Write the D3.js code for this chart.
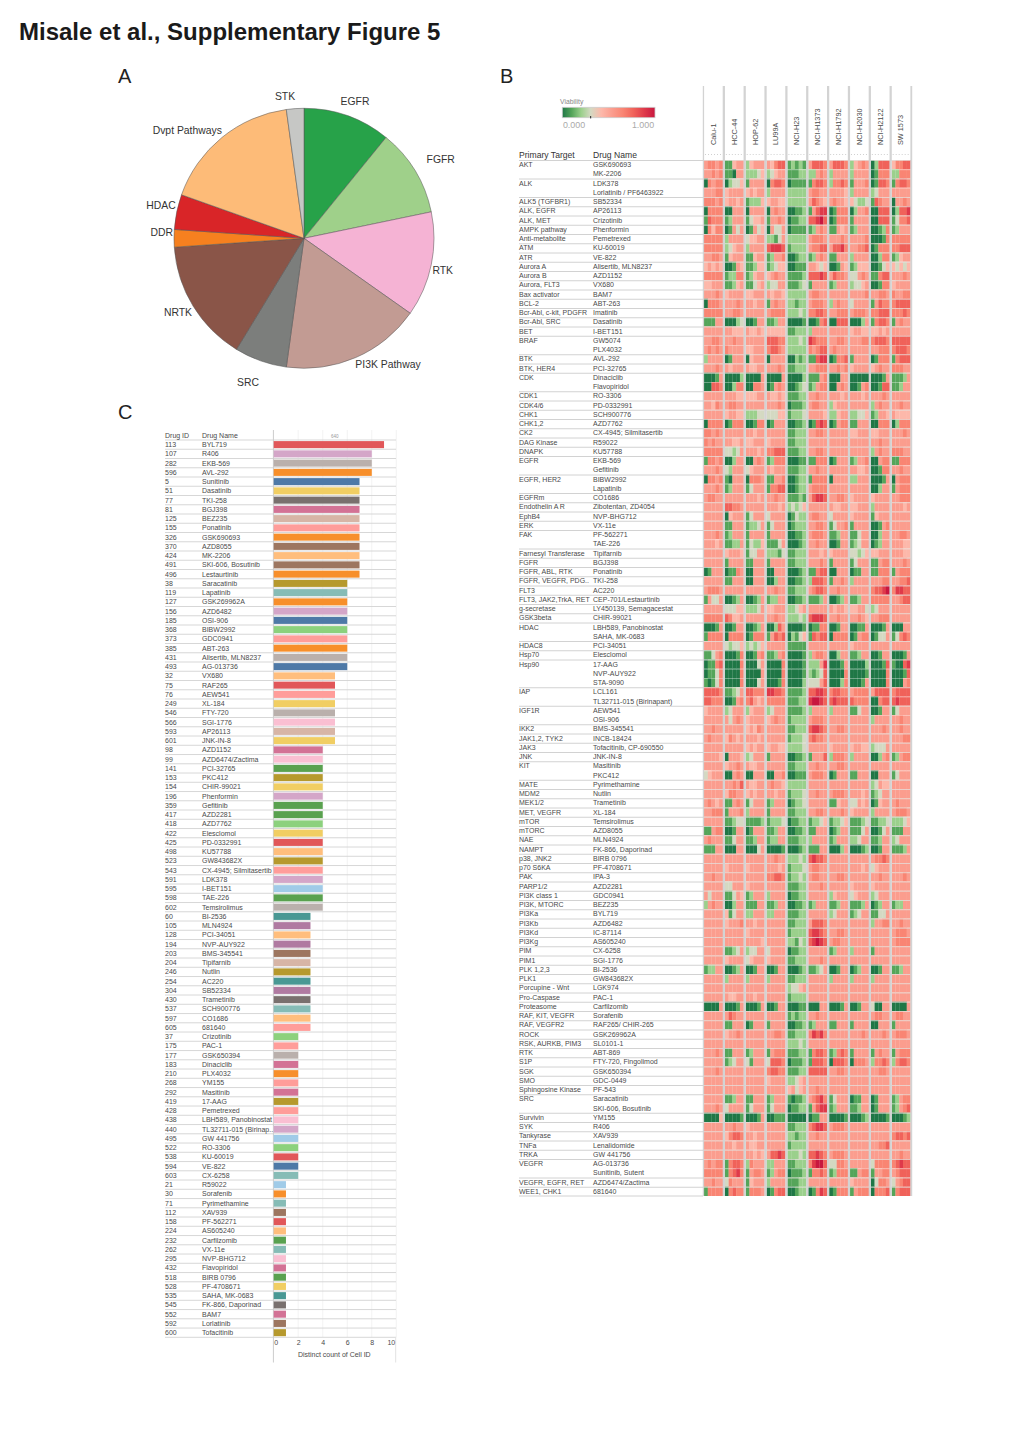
<!DOCTYPE html>
<html><head><meta charset="utf-8">
<script src="https://cdn.jsdelivr.net/npm/d3@7"></script>
<style>
html,body{margin:0;padding:0;background:#fff}
svg{display:block}
text{font-family:"Liberation Sans",Arial,sans-serif}
</style></head><body>
<svg id="fig" width="1020" height="1442"></svg>
<script>
// ---------- Panel A data ----------
const pieLabels = ["EGFR","FGFR","RTK","PI3K Pathway","SRC","NRTK","DDR","HDAC","Dvpt Pathways","STK"];
const pieValues = [5,5,6,8,3,7,1,2,8,1];
const pieColors = ["#27a249","#9fd08a","#f5b3d4","#c29b93","#7c7e7c","#8a5548","#f6801f","#d92528","#fdbb78","#c6c7c5"];

// ---------- Panel C data ----------
const barIds = [113,107,282,596,5,51,77,81,125,155,326,370,424,491,496,38,119,127,156,185,368,373,385,431,493,32,75,76,249,546,566,593,601,98,99,141,153,154,196,359,417,418,422,425,498,523,543,591,595,598,602,60,105,128,194,203,204,246,254,304,430,537,597,605,37,175,177,183,210,268,292,419,428,438,440,495,522,538,594,603,21,30,71,112,158,224,232,262,295,432,518,528,535,545,552,592,600];
const barNames = ["BYL719","R406","EKB-569","AVL-292","Sunitinib","Dasatinib","TKI-258","BGJ398","BEZ235","Ponatinib","GSK690693","AZD8055","MK-2206","SKI-606, Bosutinib","Lestaurtinib","Saracatinib","Lapatinib","GSK269962A","AZD6482","OSI-906","BIBW2992","GDC0941","ABT-263","Alisertib, MLN8237","AG-013736","VX680","RAF265","AEW541","XL-184","FTY-720","SGI-1776","AP26113","JNK-IN-8","AZD1152","AZD6474/Zactima","PCI-32765","PKC412","CHIR-99021","Phenformin","Gefitinib","AZD2281","AZD7762","Elesclomol","PD-0332991","KU57788","GW843682X","CX-4945; Silmitasertib","LDK378","I-BET151","TAE-226","Temsirolimus","BI-2536","MLN4924","PCI-34051","NVP-AUY922","BMS-345541","Tipifarnib","Nutlin","AC220","SB52334","Trametinib","SCH900776","CO1686","681640","Crizotinib","PAC-1","GSK650394","Dinaciclib","PLX4032","YM155","Masitinib","17-AAG","Pemetrexed","LBH589, Panobinostat","TL32711-015 (Birinap..","GW 441756","RO-3306","KU-60019","VE-822","CX-6258","R59022","Sorafenib","Pyrimethamine","XAV939","PF-562271","AS605240","Carfilzomib","VX-11e","NVP-BHG712","Flavopiridol","BIRB 0796","PF-4708671","SAHA, MK-0683","FK-866, Daporinad","BAM7","Lorlatinib","Tofacitinib"];
const barCounts = [9,8,8,8,7,7,7,7,7,7,7,7,7,7,7,6,6,6,6,6,6,6,6,6,6,5,5,5,5,5,5,5,5,4,4,4,4,4,4,4,4,4,4,4,4,4,4,4,4,4,4,3,3,3,3,3,3,3,3,3,3,3,3,3,2,2,2,2,2,2,2,2,2,2,2,2,2,2,2,2,1,1,1,1,1,1,1,1,1,1,1,1,1,1,1,1,1];
const barGroups = ["red","lpurple","lgrey","orange","blue","yellow","grey","dpink","tan","lred","orange","brown","lorange","brown","orange","olive","lteal","orange","lpurple","blue","lgreen","lred","orange","lgrey","blue","lorange","red","lred","yellow","lgrey","pink","tan","yellow","dpink","pink","green","olive","yellow","lpurple","green","green","lgreen","yellow","red","lorange","olive","lred","lpurple","sky","green","lgrey","teal","purple","lorange","purple","brown","tan","olive","teal","purple","grey","lteal","lorange","lred","lgreen","lred","lgrey","dpink","orange","lred","dpink","olive","lred","pink","lpurple","sky","lgreen","red","blue","lteal","sky","orange","lteal","brown","red","lorange","green","lteal","pink","dpink","green","yellow","teal","grey","dpink","brown","olive"];
const barTicks = [0,2,4,6,8,10];
const groupKeys = ["blue","sky","orange","lorange","green","lgreen","olive","yellow","teal","lteal","red","lred","grey","lgrey","dpink","pink","purple","lpurple","brown","tan"];
const groupColors = ["#4e79a7","#a0cbe8","#f78f2b","#ffbe7d","#59a14f","#8cd17d","#b6992d","#f1ce63","#499894","#86bcb6","#e15759","#ff9d9a","#79706e","#bab0ac","#d37295","#fabfd2","#b07aa1","#d4a6c8","#9d7660","#d7b5a6"];

// ---------- Panel B data ----------
const cellLines = ["Calu-1","HCC-44","HOP-62","LU99A","NCI-H23","NCI-H1373","NCI-H1792","NCI-H2030","NCI-H2122","SW 1573"];
const primaryTargets = ["AKT","","ALK","","ALK5 (TGFBR1)","ALK, EGFR","ALK, MET","AMPK pathway","Anti-metabolite","ATM","ATR","Aurora A","Aurora B","Aurora, FLT3","Bax activator","BCL-2","Bcr-Abl, c-kit, PDGFR","Bcr-Abl, SRC","BET","BRAF","","BTK","BTK, HER4","CDK","","CDK1","CDK4/6","CHK1","CHK1,2","CK2","DAG Kinase","DNAPK","EGFR","","EGFR, HER2","","EGFRm","Endothelin A R","EphB4","ERK","FAK","","Farnesyl Transferase","FGFR","FGFR, ABL, RTK","FGFR, VEGFR, PDG..","FLT3","FLT3, JAK2,TrkA, RET","g-secretase","GSK3beta","HDAC","","HDAC8","Hsp70","Hsp90","","","IAP","","IGF1R","","IKK2","JAK1,2, TYK2","JAK3","JNK","KIT","","MATE","MDM2","MEK1/2","MET, VEGFR","mTOR","mTORC","NAE","NAMPT","p38, JNK2","p70 S6KA","PAK","PARP1/2","PI3K class 1","PI3K, MTORC","PI3Ka","PI3Kb","PI3Kd","PI3Kg","PIM","PIM1","PLK 1,2,3","PLK1","Porcupine - Wnt","Pro-Caspase","Proteasome","RAF, KIT, VEGFR","RAF, VEGFR2","ROCK","RSK, AURKB, PIM3","RTK","S1P","SGK","SMO","Sphingosine Kinase","SRC","","Survivin","SYK","Tankyrase","TNFa","TRKA","VEGFR","","VEGFR, EGFR, RET","WEE1, CHK1"];
const drugNames = ["GSK690693","MK-2206","LDK378","Lorlatinib / PF6463922","SB52334","AP26113","Crizotinib","Phenformin","Pemetrexed","KU-60019","VE-822","Alisertib, MLN8237","AZD1152","VX680","BAM7","ABT-263","Imatinib","Dasatinib","I-BET151","GW5074","PLX4032","AVL-292","PCI-32765","Dinaciclib","Flavopiridol","RO-3306","PD-0332991","SCH900776","AZD7762","CX-4945; Silmitasertib","R59022","KU57788","EKB-569","Gefitinib","BIBW2992","Lapatinib","CO1686","Zibotentan, ZD4054","NVP-BHG712","VX-11e","PF-562271","TAE-226","Tipifarnib","BGJ398","Ponatinib","TKI-258","AC220","CEP-701/Lestaurtinib","LY450139, Semagacestat","CHIR-99021","LBH589, Panobinostat","SAHA, MK-0683","PCI-34051","Elesclomol","17-AAG","NVP-AUY922","STA-9090","LCL161","TL32711-015 (Birinapant)","AEW541","OSI-906","BMS-345541","INCB-18424","Tofacitinib, CP-690550","JNK-IN-8","Masitinib","PKC412","Pyrimethamine","Nutlin","Trametinib","XL-184","Temsirolimus","AZD8055","MLN4924","FK-866, Daporinad","BIRB 0796","PF-4708671","IPA-3","AZD2281","GDC0941","BEZ235","BYL719","AZD6482","IC-87114","AS605240","CX-6258","SGI-1776","BI-2536","GW843682X","LGK974","PAC-1","Carfilzomib","Sorafenib","RAF265/ CHIR-265","GSK269962A","SL0101-1","ABT-869","FTY-720, Fingolimod","GSK650394","GDC-0449","PF-543","Saracatinib","SKI-606, Bosutinib","YM155","R406","XAV939","Lenalidomide","GW 441756","AG-013736","Sunitinib, Sutent","AZD6474/Zactima","681640"];
// viability per drug, per cell line, five dose bands; digit d means viability d/9, read by eye
const heatRows = [
"56656 11455 24555 54677 12121 57776 57776 24565 02777 46677",
"55656 11055 22234 23455 11122 22565 25555 25555 01666 22666",
"06566 02334 15555 06776 01111 16776 26676 15556 01776 16776",
"55566 45555 45455 25555 22222 56655 55554 25555 23555 55555",
"66656 45545 12224 45544 22222 57654 56554 43223 17655 05565",
"06666 00555 05555 05655 00112 15788 01666 02556 00777 02778",
"17666 12555 13445 15565 01122 77897 01666 15555 00777 13667",
"06466 01535 01534 05335 01111 12565 11545 12555 00126 12555",
"66666 25555 34455 22135 22222 56665 55565 55556 00016 66666",
"66666 23455 25555 78887 12222 56677 57786 55667 01666 66777",
"55665 14555 11455 12556 00122 12565 11555 25555 00266 12455",
"45454 00154 11244 12344 00111 55434 00154 12444 00134 43434",
"66666 12266 12455 45655 11112 77787 57665 33565 11677 55565",
"44555 11245 11345 23355 11123 15555 12555 23345 00166 45555",
"55565 45555 44555 54554 22222 56655 55555 55556 55665 65566",
"06665 55565 55455 15655 22122 56665 25655 35555 15766 67777",
"66666 55665 55555 56666 22232 66776 55666 56665 66777 66676",
"11155 00023 00155 11255 00001 00167 00777 00025 16776 15655",
"55555 55444 54454 44444 11222 25555 55555 45544 44545 55555",
"55665 55655 55555 77766 22232 87666 55665 55566 67776 77777",
"56565 65555 44555 67765 22222 65677 56555 55555 55666 67776",
"25555 01555 04555 05555 00212 11788 01667 15555 01666 16777",
"55565 54555 54455 55565 11222 55666 55656 45555 45655 66655",
"00015 00002 00005 00005 00002 11156 00055 00000 00015 11125",
"00776 00266 00665 01565 00123 12566 00565 00156 00177 11255",
"55555 55544 44455 54454 11122 55655 55545 55545 55565 55555",
"55465 56655 55555 55565 01112 56655 24555 55555 25655 55655",
"55555 45544 22233 33344 12223 55554 22455 22334 12554 54444",
"06666 01666 00166 01555 00112 01787 01566 11555 00666 02666",
"66565 55555 55455 55555 11222 55665 55555 44555 44555 55565",
"65655 55445 44555 45555 11222 55555 55555 55555 55655 55555",
"66666 33235 55545 66777 11122 55665 55555 55555 25655 66655",
"16656 00255 00565 12666 00011 11666 01555 12556 00566 11666",
"55565 32555 34555 54555 11122 55655 55555 55445 00166 55655",
"06656 10555 06665 11556 00122 16666 05555 22555 00015 05666",
"55565 12555 13555 16677 00122 56666 55555 55555 00255 15666",
"56655 55555 55545 55655 11121 57887 55665 45555 45555 55666",
"55555 77665 55555 55545 23234 55555 54455 44555 25555 55545",
"55555 04555 13555 35555 01322 56655 35555 45555 14555 55555",
"55555 11555 12235 13555 01222 55665 13556 15555 00156 55555",
"55565 12555 15555 15555 00112 56665 11255 11355 00255 55665",
"55545 11225 13224 11135 00012 55655 00155 12355 01255 55544",
"55555 45554 13355 22213 11222 55545 45555 33234 44555 55544",
"55555 15555 11555 15555 11222 55565 15555 13555 11566 55565",
"01555 01165 00555 00555 00012 11677 00555 01155 11666 15666",
"55555 11555 00555 00255 00112 27776 15565 25555 55566 55667",
"56665 55555 55555 55655 11222 56776 55655 55555 67789 68877",
"15335 00125 00125 12255 00112 11125 00125 11255 66666 55677",
"55555 33344 22235 44555 22345 55555 54554 44553 23555 55555",
"66666 76445 55555 55655 22232 78887 55655 55654 55666 55555",
"00015 00155 00125 00275 00001 01166 00155 00115 00015 00055",
"16666 06666 01666 15767 02134 17677 06666 01566 01335 13676",
"55555 32334 23234 55555 11111 55555 55555 45555 55555 55555",
"11356 00016 00156 11256 00001 25665 00255 11255 00155 00015",
"01167 00006 00035 00006 00001 22258 00015 00002 00017 10078",
"01136 00006 00005 00006 00001 21237 00006 00001 00006 00017",
"10136 00006 00035 00016 00002 33357 00026 00015 00006 00056",
"77776 11235 77666 88776 11112 77887 67766 56666 57777 67777",
"77666 00156 67545 66666 11122 89987 78777 76666 00677 78777",
"45555 23555 24555 23555 11112 25555 25555 11355 00155 13555",
"55555 53565 45555 45655 12222 56665 55555 55555 25555 55655",
"55655 55555 45465 55555 11222 78876 55665 55555 55565 55655",
"56555 46545 55545 55555 12223 67665 55555 55555 55555 55566",
"55555 55555 45455 45544 22223 55555 45555 45544 23335 55555",
"55554 05554 23555 15555 00112 15557 26665 25555 00256 12566",
"55555 45565 54455 55555 11222 55655 55665 55555 55555 55555",
"34555 00565 00555 00556 00111 56665 01555 11555 00555 13555",
"55555 55657 54455 56554 22222 55555 55555 55555 23544 55555",
"55555 46655 45455 55455 12223 55655 56665 55545 12355 55555",
"56545 11565 13555 12555 01223 55555 11455 33545 01455 56555",
"55666 15556 25555 15555 11222 55665 55565 45555 25555 56665",
"55555 11233 11112 12223 01122 12234 12234 11123 11223 22234",
"11566 00155 01555 11255 00112 11555 01255 11135 00135 11155",
"56555 11355 11255 12255 11122 25555 12555 22355 11255 23555",
"11155 00055 00035 00001 00012 11155 00025 00012 00155 11125",
"55555 55555 55555 55655 22232 78776 55555 55555 56676 55555",
"55555 45555 45555 55545 12223 56655 55555 55545 34555 55555",
"55655 55555 55555 66776 12232 56655 55665 55555 55655 55565",
"55555 33555 45555 55555 11122 55565 55555 45555 45555 55555",
"53555 11354 12555 25555 01122 55555 24555 34555 23555 55555",
"25655 00255 11155 11255 00112 12555 11255 11125 01255 12255",
"55555 41355 22555 22555 11122 55555 23555 12355 11335 55555",
"55555 45556 55455 55555 11222 57776 55555 55555 25566 55655",
"55555 55555 45555 55555 12222 78876 55665 55555 55555 56665",
"55555 55555 55554 55555 22132 78987 56655 55555 55555 56666",
"55555 11235 23355 35555 01122 55555 12555 25555 15555 55555",
"55555 45555 34555 45555 11222 55565 55555 55555 55555 55555",
"12255 00125 00155 00155 00012 11235 00155 01255 00155 11255",
"55555 25555 25555 25555 11222 55555 25555 25555 25555 55555",
"55555 55555 55555 55555 23345 55555 55555 55555 55555 55555",
"55555 54455 55455 55555 12222 55555 55555 55555 55555 55555",
"00005 00015 00015 00155 00011 00055 00015 00155 30055 00005",
"55555 57655 55555 55555 12122 55655 55555 55555 56655 56655",
"55555 11555 01555 15555 00112 12555 11555 15555 00555 15555",
"55555 45565 55555 55665 11222 68786 55555 55565 55565 56665",
"55555 55555 55555 55555 22232 55555 55555 55555 55555 55555",
"55565 11555 12555 15666 11122 16776 12676 15555 15655 15666",
"55555 12355 31555 37776 01112 17776 07776 06665 26676 26776",
"55565 55555 55555 67766 11122 77777 55665 55555 55665 55555",
"55555 55555 55555 45555 22345 55555 55555 55555 55555 55555",
"55555 55555 55555 55555 45345 55655 55555 55555 55555 55555",
"55555 11255 11555 12555 10112 56786 13555 01155 01555 12566",
"55565 35555 13555 13555 01122 15788 12555 11255 01555 12567",
"00004 00001 00015 00111 00000 01155 00001 00012 00001 00012",
"55555 55655 45555 55555 11222 67887 56665 55555 55555 55555",
"55555 46776 55455 55555 22122 55655 55555 55555 55555 67767",
"55555 55455 54455 55555 12222 55555 55555 55555 55667 55555",
"55555 55555 55454 57787 22232 77876 56665 55555 55555 55655",
"56566 16776 26555 22555 11222 68997 33665 55555 36666 67877",
"66666 16786 15665 12566 01112 16676 12666 11566 15566 56777",
"55655 36555 14555 25555 11122 55555 55555 45555 03665 35677",
"16666 06766 16665 01677 00122 01687 01666 15666 06667 16777"
];
const doseBands = [0,1,2,3,4];
const viabilityStops = [0,1/9,2/9,3/9,4/9,5/9,6/9,7/9,8/9,1];
const viabilityColors = ["#1f7746","#55a55a","#9bd08c","#d4d9c2","#fdb8aa","#fb9d8e","#f98573","#f0625a","#df3a4a","#c8173f"];

// ---------- Layout ----------
const svg = d3.select("#fig");
const textCol = "#4a4a4a", rule = "#d2d2d2";

svg.append("text").attr("x",19).attr("y",40).attr("font-size",24).attr("font-weight",700).attr("fill","#1a1a1a")
  .text("Misale et al., Supplementary Figure 5");
[["A",118,83],["B",500,83],["C",118,419]].forEach(([t,x,y])=>{
  svg.append("text").attr("x",x).attr("y",y).attr("font-size",20).attr("fill","#222").text(t);
});

// ---------- A: pie ----------
const pieG = svg.append("g").attr("transform","translate(304,238.3)");
const pieArc = d3.arc().innerRadius(0).outerRadius(130);
const pieData = d3.pie().sort(null)(pieValues);
pieG.selectAll("path").data(pieData).join("path")
  .attr("d",pieArc).attr("fill",(d,i)=>pieColors[i])
  .attr("stroke","#555").attr("stroke-opacity",.65).attr("stroke-width",.8);
const pieLabelOffset = [[51,-136.6],[136.7,-79],[138.7,32.4],[84,125.7],[-56,143.7],[-126,73.7],[-142.3,-5.6],[-143,-33],[-116.7,-107.6],[-19,-141.6]];
pieG.selectAll("text").data(pieLabels).join("text")
  .attr("x",(d,i)=>pieLabelOffset[i][0]).attr("y",(d,i)=>pieLabelOffset[i][1]).attr("dy",".35em")
  .attr("text-anchor","middle").attr("font-size",10.4).attr("fill","#333").text(d=>d);

// ---------- B: heat table ----------
const hx = d3.scaleBand().domain(cellLines).range([704,910.5]).paddingInner(0.098).paddingOuter(0);
const hy = d3.scaleBand().domain(d3.range(heatRows.length)).range([160,1196]);
const hd = d3.scaleBand().domain(doseBands).range([0,hx.bandwidth()]);
const vColor = d3.scaleLinear().domain(viabilityStops).range(viabilityColors);

const heatG = svg.append("g");
heatRows.forEach((row,r)=>{
  row.split(" ").forEach((panel,c)=>{
    heatG.selectAll(null).data(panel.split("").map(Number)).join("rect")
      .attr("x",(d,i)=>hx(cellLines[c])+hd(i)).attr("y",hy(r))
      .attr("width",hd.bandwidth()+.2).attr("height",hy.bandwidth())
      .attr("fill",d=>vColor(d/9));
  });
});
// pale rule between every row, stronger rule at each new target
const ruleG = svg.append("g");
primaryTargets.forEach((t,r)=>{
  ruleG.append("line").attr("x1",704).attr("x2",910.5).attr("y1",hy(r)+.5).attr("y2",hy(r)+.5)
    .attr("stroke",t?"#e4e0dc":"#fff").attr("stroke-opacity",t?.75:.35);
  if(t) ruleG.append("line").attr("x1",519).attr("x2",703).attr("y1",hy(r)+.5).attr("y2",hy(r)+.5).attr("stroke",rule);
});
ruleG.append("line").attr("x1",519).attr("x2",703).attr("y1",1196).attr("y2",1196).attr("stroke",rule);

// grey gutters between cell lines, drawn over the cells
const gapX = [702.8].concat(cellLines.map(c=>hx(c)+hx.bandwidth()-.1));
svg.append("g").selectAll("rect").data(gapX).join("rect")
  .attr("x",d=>d).attr("y",86).attr("width",(d,i)=>i===0?1.3:i===cellLines.length?1.8:hx.step()-hx.bandwidth()+.2).attr("height",1110).attr("fill","#d3d3d3");

const rowText = svg.append("g").attr("font-size",7).attr("fill",textCol);
rowText.selectAll(".t").data(primaryTargets).join("text").attr("class","t")
  .attr("x",519).attr("y",(d,i)=>hy(i)+hy.bandwidth()/2).attr("dy",".35em").text(d=>d);
rowText.selectAll(".n").data(drugNames).join("text").attr("class","n")
  .attr("x",593).attr("y",(d,i)=>hy(i)+hy.bandwidth()/2).attr("dy",".35em").text(d=>d);

svg.append("text").attr("x",519).attr("y",158).attr("font-size",8.6).attr("fill","#333").text("Primary Target");
svg.append("text").attr("x",593).attr("y",158).attr("font-size",8.6).attr("fill","#333").text("Drug Name");
svg.append("g").selectAll("text").data(cellLines).join("text")
  .attr("transform",d=>`translate(${hx(d)+hx.bandwidth()/2+2.4},145) rotate(-90)`)
  .attr("font-size",7.3).attr("fill",textCol).text(d=>d);
svg.append("g").selectAll("line").data(cellLines).join("line")
  .attr("x1",d=>hx(d)+1).attr("x2",d=>hx(d)+hx.bandwidth()-1).attr("y1",154.5).attr("y2",154.5)
  .attr("stroke","#bbb").attr("stroke-width",.7).attr("stroke-dasharray","1 2");

// viability legend
const defs = svg.append("defs");
const lg = defs.append("linearGradient").attr("id","via");
viabilityStops.forEach((s,i)=>{
  lg.append("stop").attr("offset",(i<=3?s*0.918:0.306+(s-1/3)*(1-0.306)/(2/3))).attr("stop-color",viabilityColors[i]);
});
svg.append("text").attr("x",560).attr("y",103.5).attr("font-size",6.8).attr("fill","#888").text("Viability");
svg.append("rect").attr("x",562.3).attr("y",107.3).attr("width",92.7).attr("height",10.4)
  .attr("fill","url(#via)").attr("stroke","#ccc").attr("stroke-width",.8);
svg.append("rect").attr("x",590).attr("y",116).attr("width",1.2).attr("height",2.4).attr("fill","#444");
svg.append("text").attr("x",574).attr("y",128.3).attr("text-anchor","middle").attr("font-size",8.9).attr("fill","#aaa").text("0.000");
svg.append("text").attr("x",643).attr("y",128.3).attr("text-anchor","middle").attr("font-size",8.9).attr("fill","#aaa").text("1.000");

// ---------- C: bar table ----------
const bx = d3.scaleLinear().domain([0,10]).range([273.7,396.3]);
const by = d3.scaleBand().domain(d3.range(barIds.length)).range([440,1337.3]).paddingInner(.24).paddingOuter(.12);
const groupColor = d3.scaleOrdinal().domain(groupKeys).range(groupColors);
const rowStep = by.step();

const barBg = svg.append("g");
barBg.selectAll("line").data(barTicks.filter(t=>t>0)).join("line")
  .attr("x1",d=>bx(d)).attr("x2",d=>bx(d)).attr("y1",430).attr("y2",1337.3)
  .attr("stroke","#f0f0f0").attr("stroke-width",.8);
svg.append("g").selectAll("line").data(d3.range(barIds.length+1)).join("line")
  .attr("x1",165).attr("x2",396).attr("y1",d=>440+d*rowStep).attr("y2",d=>440+d*rowStep)
  .attr("stroke",rule).attr("stroke-width",.9);
svg.append("line").attr("x1",273.4).attr("x2",273.4).attr("y1",430).attr("y2",1362.5).attr("stroke","#ccc");
svg.append("line").attr("x1",395.7).attr("x2",395.7).attr("y1",1337).attr("y2",1362.5).attr("stroke","#e2e2e2");

svg.append("g").selectAll("rect").data(barCounts).join("rect")
  .attr("x",bx(0)).attr("y",(d,i)=>by(i)).attr("width",d=>bx(d)-bx(0)).attr("height",by.bandwidth())
  .attr("fill",(d,i)=>groupColor(barGroups[i]));

const barText = svg.append("g").attr("font-size",7).attr("fill",textCol);
barText.selectAll(".i").data(barIds).join("text").attr("class","i")
  .attr("x",165).attr("y",(d,i)=>by(i)+by.bandwidth()/2).attr("dy",".35em").text(d=>d);
barText.selectAll(".m").data(barNames).join("text").attr("class","m")
  .attr("x",202).attr("y",(d,i)=>by(i)+by.bandwidth()/2).attr("dy",".35em").text(d=>d);
barText.append("text").attr("x",165).attr("y",438).text("Drug ID");
barText.append("text").attr("x",202).attr("y",438).text("Drug Name");
svg.append("text").attr("x",334.7).attr("y",437.5).attr("text-anchor","middle").attr("font-size",4.5).attr("fill","#999").text("640");

const axisG = svg.append("g").attr("transform","translate(0,1337.3)")
  .call(d3.axisBottom(bx).tickValues(barTicks).tickSize(0).tickPadding(3).tickFormat(d3.format("d")));
axisG.select(".domain").remove();
axisG.selectAll("text").attr("font-size",7).attr("fill",textCol).style("font-family",'"Liberation Sans",Arial,sans-serif')
  .attr("dx",d=>d===0?2:d===10?-5.5:0);
svg.append("text").attr("x",334.3).attr("y",1357).attr("text-anchor","middle").attr("font-size",7).attr("fill",textCol).text("Distinct count of Cell ID");
</script>
</body></html>
